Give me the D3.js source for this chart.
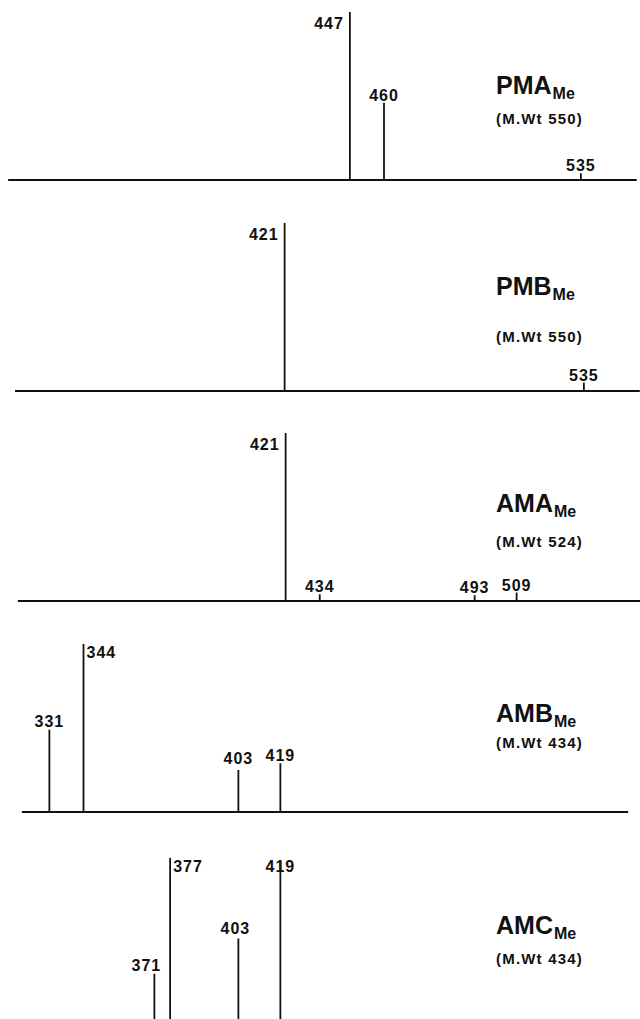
<!DOCTYPE html>
<html>
<head>
<meta charset="utf-8">
<script src="https://cdn.jsdelivr.net/npm/d3@7"></script>
<style>
  html, body { margin: 0; padding: 0; background: #fff; }
  svg { display: block; }
  text { font-family: "Liberation Sans", Arial, Helvetica, sans-serif; fill: #111; }
</style>
</head>
<body>
<svg id="chart" width="640" height="1019"></svg>
<script>
// ---- data ----
const compounds   = ["PMA", "PMB", "AMA", "AMB", "AMC"];
const molWeights  = [550, 550, 524, 434, 434];
const pmaMz  = [447, 460, 535];       const pmaInt = [100, 46, 4];
const pmbMz  = [421, 535];            const pmbInt = [100, 5];
const amaMz  = [421, 434, 493, 509];  const amaInt = [100, 4, 3.5, 5];
const ambMz  = [331, 344, 403, 419];  const ambInt = [49, 100, 25, 29];
const amcMz  = [371, 377, 403, 419];  const amcInt = [29, 98, 50, 96];
const spectraMz  = [pmaMz, pmbMz, amaMz, ambMz, amcMz];
const spectraInt = [pmaInt, pmbInt, amaInt, ambInt, amcInt];

// ---- layout (not data) ----
const baselines  = [180, 391, 601, 812, 1022.5];
const panelDx    = [-4, -1, 0, 0, 0];
const axisFrom   = [316.8, 318.3, 319, 320.5, 320];
const axisTo     = [556.3, 556.3, 556.3, 551.5, 556.3];
const titleDy    = [-86, -96, -89, -90, -89];
const subDy      = [-56, -49, -54, -64, -59];
const titleX     = 496;
// label placement: side = above | left | right | through
const labelPlace = {
  "0-447": {side: "left"}, "0-460": {side: "above", gap: 2}, "0-535": {side: "above", gap: 2},
  "1-421": {side: "left"}, "1-535": {side: "above", gap: 2},
  "2-421": {side: "left"}, "2-434": {side: "above", gap: 2}, "2-493": {side: "above", gap: 2}, "2-509": {side: "above", gap: 2},
  "3-331": {side: "above", gap: 3}, "3-344": {side: "right"}, "3-403": {side: "above", gap: 6}, "3-419": {side: "above", gap: 2},
  "4-371": {side: "above", gap: 3, dx: -8}, "4-377": {side: "right"}, "4-403": {side: "above", gap: 5, dx: -3}, "4-419": {side: "through"}
};

const svg = d3.select("#chart");
const x = d3.scaleLinear().domain([316, 556]).range([10, 640]);
const h = d3.scaleLinear().domain([0, 100]).range([0, 168]);

compounds.forEach((name, i) => {
  const g = svg.append("g").attr("transform", `translate(${panelDx[i]},0)`);
  const base = baselines[i];
  const pts = spectraMz[i].map((m, k) => ({mz: m, v: spectraInt[i][k]}));

  // baseline axis
  g.append("line")
    .attr("x1", x(axisFrom[i])).attr("x2", x(axisTo[i]))
    .attr("y1", base).attr("y2", base)
    .attr("stroke", "#111").attr("stroke-width", 2);

  // peaks
  g.selectAll("line.peak").data(pts).enter().append("line")
    .attr("class", "peak")
    .attr("x1", d => x(d.mz)).attr("x2", d => x(d.mz))
    .attr("y1", base).attr("y2", d => base - h(d.v))
    .attr("stroke", "#111").attr("stroke-width", 1.8);

  // peak labels
  g.selectAll("text.lbl").data(pts).enter().append("text")
    .attr("class", "lbl")
    .attr("font-size", 16).attr("font-weight", "bold")
    .attr("letter-spacing", 1)
    .each(function(d) {
      const p = labelPlace[i + "-" + d.mz] || {side: "above"};
      const top = base - h(d.v);
      const px = x(d.mz) + (p.dx || 0);
      const t = d3.select(this).text(d.mz);
      if (p.side === "left") {
        t.attr("x", px - 6).attr("y", top + 17).attr("text-anchor", "end");
      } else if (p.side === "right") {
        t.attr("x", px + 3).attr("y", top + 14).attr("text-anchor", "start");
      } else if (p.side === "through") {
        t.attr("x", px).attr("y", top + 11).attr("text-anchor", "middle");
      } else {
        t.attr("x", px).attr("y", top - (p.gap || 3)).attr("text-anchor", "middle");
      }
    });

  // title with subscript
  const tt = svg.append("text")
    .attr("x", titleX).attr("y", base + titleDy[i])
    .attr("font-size", 25).attr("font-weight", "bold");
  tt.append("tspan").text(name);
  tt.append("tspan").attr("font-size", 16).attr("dy", 5).attr("dx", 1).text("Me");

  svg.append("text")
    .attr("x", titleX).attr("y", base + subDy[i])
    .attr("font-size", 15).attr("font-weight", "bold")
    .attr("letter-spacing", 1.2)
    .text(`(M.Wt ${molWeights[i]})`);
});
</script>
</body>
</html>
